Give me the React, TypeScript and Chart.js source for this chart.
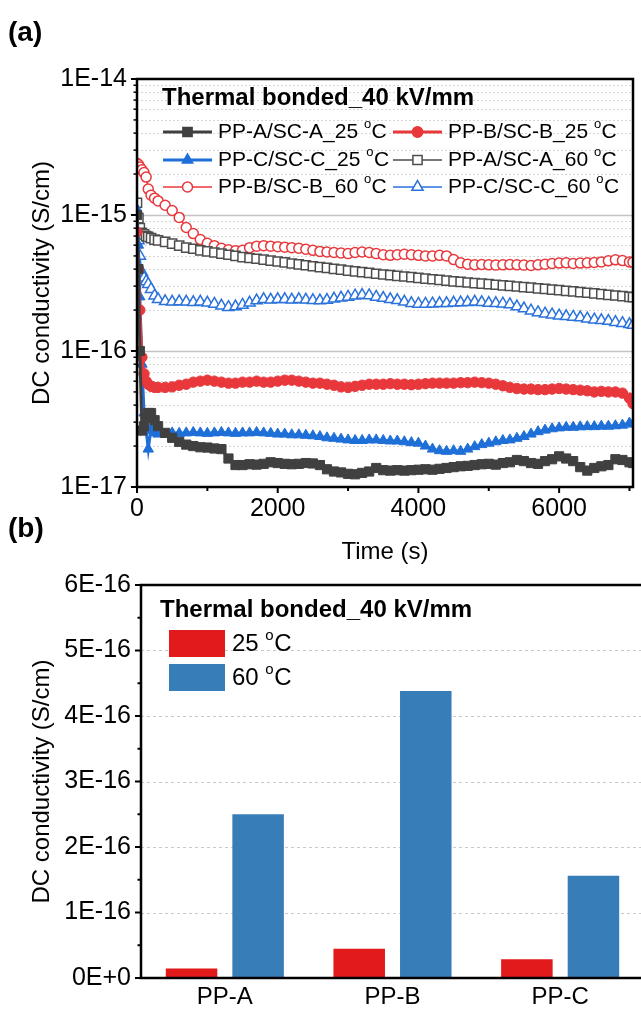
import React, { useEffect, useRef } from 'react';
import { Chart, registerables } from 'chart.js';

Chart.register(...registerables);

const FONT = "'Liberation Sans', Arial, Helvetica, sans-serif";

// ---------------- Panel (a): DC conductivity vs time ----------------
const timeS = [
  0, 20, 40, 70, 100, 130, 160, 200, 250, 300,
  400, 500, 600, 700, 800, 900, 1000, 1100, 1200, 1300,
  1400, 1500, 1600, 1700, 1800, 1900, 2000, 2100, 2200, 2300,
  2400, 2500, 2600, 2700, 2800, 2900, 3000, 3100, 3200, 3300,
  3400, 3500, 3600, 3700, 3800, 3900, 4000, 4100, 4200, 4300,
  4400, 4500, 4600, 4700, 4800, 4900, 5000, 5100, 5200, 5300,
  5400, 5500, 5600, 5700, 5800, 5900, 6000, 6100, 6200, 6300,
  6400, 6500, 6600, 6700, 6800, 6900, 7000, 7050,
];

const ppA_25 = [
  1.0e-15, 4.0e-16, 1.0e-16, 2.6e-17, 2.8e-17, 3.2e-17, 3.5e-17, 3.5e-17, 3.1e-17, 2.8e-17,
  2.5e-17, 2.3e-17, 2.15e-17, 2.05e-17, 2.0e-17, 1.96e-17, 1.95e-17, 1.92e-17, 1.9e-17, 1.62e-17,
  1.45e-17, 1.45e-17, 1.47e-17, 1.46e-17, 1.48e-17, 1.52e-17, 1.5e-17, 1.48e-17, 1.47e-17, 1.48e-17,
  1.5e-17, 1.49e-17, 1.45e-17, 1.35e-17, 1.3e-17, 1.28e-17, 1.25e-17, 1.24e-17, 1.27e-17, 1.3e-17,
  1.38e-17, 1.33e-17, 1.32e-17, 1.33e-17, 1.32e-17, 1.33e-17, 1.34e-17, 1.35e-17, 1.34e-17, 1.36e-17,
  1.38e-17, 1.4e-17, 1.42e-17, 1.43e-17, 1.45e-17, 1.47e-17, 1.48e-17, 1.46e-17, 1.5e-17, 1.52e-17,
  1.58e-17, 1.55e-17, 1.5e-17, 1.48e-17, 1.55e-17, 1.6e-17, 1.68e-17, 1.62e-17, 1.55e-17, 1.4e-17,
  1.32e-17, 1.38e-17, 1.42e-17, 1.45e-17, 1.6e-17, 1.58e-17, 1.52e-17, 1.5e-17,
];

const ppB_25 = [
  7.5e-16, 4.0e-16, 2.0e-16, 9.0e-17, 6.8e-17, 6.0e-17, 5.7e-17, 5.5e-17, 5.4e-17, 5.4e-17,
  5.4e-17, 5.45e-17, 5.6e-17, 5.7e-17, 5.9e-17, 6.0e-17, 6.1e-17, 6.0e-17, 5.9e-17, 5.8e-17,
  5.8e-17, 5.9e-17, 5.9e-17, 6.0e-17, 5.9e-17, 5.9e-17, 6.0e-17, 6.1e-17, 6.1e-17, 6.0e-17,
  5.9e-17, 5.8e-17, 5.8e-17, 5.7e-17, 5.6e-17, 5.45e-17, 5.4e-17, 5.5e-17, 5.6e-17, 5.7e-17,
  5.7e-17, 5.7e-17, 5.75e-17, 5.7e-17, 5.7e-17, 5.65e-17, 5.7e-17, 5.75e-17, 5.8e-17, 5.8e-17,
  5.8e-17, 5.8e-17, 5.85e-17, 5.85e-17, 5.9e-17, 5.85e-17, 5.8e-17, 5.7e-17, 5.55e-17, 5.4e-17,
  5.3e-17, 5.25e-17, 5.25e-17, 5.2e-17, 5.2e-17, 5.25e-17, 5.3e-17, 5.25e-17, 5.2e-17, 5.15e-17,
  5.1e-17, 5.0e-17, 5.05e-17, 5.0e-17, 5.0e-17, 4.9e-17, 4.5e-17, 4.1e-17,
];

const ppC_25 = [
  1.1e-15, 6.0e-16, 2.5e-16, 8.0e-17, 3.5e-17, 2.6e-17, 1.9e-17, 2.7e-17, 2.5e-17, 2.45e-17,
  2.45e-17, 2.5e-17, 2.48e-17, 2.5e-17, 2.52e-17, 2.5e-17, 2.48e-17, 2.5e-17, 2.52e-17, 2.5e-17,
  2.48e-17, 2.5e-17, 2.5e-17, 2.52e-17, 2.5e-17, 2.48e-17, 2.45e-17, 2.45e-17, 2.42e-17, 2.42e-17,
  2.4e-17, 2.38e-17, 2.35e-17, 2.3e-17, 2.28e-17, 2.25e-17, 2.22e-17, 2.2e-17, 2.2e-17, 2.22e-17,
  2.22e-17, 2.2e-17, 2.18e-17, 2.18e-17, 2.15e-17, 2.12e-17, 2.1e-17, 2.0e-17, 1.9e-17, 1.85e-17,
  1.83e-17, 1.85e-17, 1.83e-17, 1.9e-17, 1.98e-17, 2.05e-17, 2.1e-17, 2.15e-17, 2.2e-17, 2.22e-17,
  2.28e-17, 2.35e-17, 2.45e-17, 2.55e-17, 2.62e-17, 2.68e-17, 2.72e-17, 2.75e-17, 2.75e-17, 2.77e-17,
  2.78e-17, 2.78e-17, 2.8e-17, 2.8e-17, 2.82e-17, 2.85e-17, 2.95e-17, 2.9e-17,
];

const ppA_60 = [
  1.23e-15, 9.5e-16, 8.0e-16, 7.4e-16, 7.2e-16, 7.0e-16, 6.9e-16, 6.75e-16, 6.6e-16, 6.5e-16,
  6.35e-16, 6.15e-16, 5.95e-16, 5.75e-16, 5.65e-16, 5.5e-16, 5.4e-16, 5.3e-16, 5.2e-16, 5.1e-16,
  5.0e-16, 4.9e-16, 4.83e-16, 4.77e-16, 4.7e-16, 4.62e-16, 4.55e-16, 4.48e-16, 4.4e-16, 4.33e-16,
  4.27e-16, 4.2e-16, 4.14e-16, 4.08e-16, 4.02e-16, 3.96e-16, 3.9e-16, 3.85e-16, 3.8e-16, 3.75e-16,
  3.7e-16, 3.65e-16, 3.61e-16, 3.57e-16, 3.53e-16, 3.49e-16, 3.45e-16, 3.41e-16, 3.37e-16, 3.33e-16,
  3.29e-16, 3.25e-16, 3.22e-16, 3.19e-16, 3.16e-16, 3.13e-16, 3.1e-16, 3.07e-16, 3.04e-16, 3.01e-16,
  2.98e-16, 2.95e-16, 2.92e-16, 2.89e-16, 2.86e-16, 2.83e-16, 2.8e-16, 2.77e-16, 2.74e-16, 2.71e-16,
  2.68e-16, 2.65e-16, 2.62e-16, 2.59e-16, 2.56e-16, 2.53e-16, 2.5e-16, 2.49e-16,
];

const ppB_60 = [
  2.4e-15, 2.35e-15, 2.25e-15, 2.15e-15, 2.05e-15, 1.9e-15, 1.55e-15, 1.4e-15, 1.33e-15, 1.27e-15,
  1.18e-15, 1.08e-15, 9.6e-16, 8.1e-16, 7.3e-16, 6.6e-16, 6.2e-16, 5.95e-16, 5.7e-16, 5.55e-16,
  5.45e-16, 5.5e-16, 5.75e-16, 5.9e-16, 5.95e-16, 5.9e-16, 5.85e-16, 5.8e-16, 5.75e-16, 5.7e-16,
  5.6e-16, 5.5e-16, 5.4e-16, 5.35e-16, 5.3e-16, 5.25e-16, 5.2e-16, 5.3e-16, 5.35e-16, 5.3e-16,
  5.2e-16, 5.1e-16, 5.05e-16, 5.1e-16, 5.15e-16, 5.1e-16, 5.05e-16, 5.0e-16, 5.0e-16, 5.05e-16,
  5.0e-16, 4.7e-16, 4.45e-16, 4.35e-16, 4.3e-16, 4.32e-16, 4.3e-16, 4.28e-16, 4.3e-16, 4.32e-16,
  4.3e-16, 4.28e-16, 4.25e-16, 4.3e-16, 4.35e-16, 4.4e-16, 4.43e-16, 4.45e-16, 4.4e-16, 4.43e-16,
  4.45e-16, 4.48e-16, 4.52e-16, 4.6e-16, 4.68e-16, 4.62e-16, 4.52e-16, 4.5e-16,
];

const ppC_60 = [
  9.0e-16, 6.5e-16, 5.0e-16, 3.8e-16, 3.45e-16, 3.25e-16, 3.1e-16, 2.85e-16, 2.55e-16, 2.4e-16,
  2.32e-16, 2.3e-16, 2.31e-16, 2.3e-16, 2.28e-16, 2.3e-16, 2.26e-16, 2.22e-16, 2.15e-16, 2.1e-16,
  2.12e-16, 2.18e-16, 2.26e-16, 2.35e-16, 2.4e-16, 2.38e-16, 2.4e-16, 2.4e-16, 2.38e-16, 2.4e-16,
  2.38e-16, 2.36e-16, 2.35e-16, 2.37e-16, 2.42e-16, 2.46e-16, 2.5e-16, 2.55e-16, 2.58e-16, 2.56e-16,
  2.5e-16, 2.45e-16, 2.4e-16, 2.36e-16, 2.3e-16, 2.24e-16, 2.22e-16, 2.22e-16, 2.23e-16, 2.24e-16,
  2.24e-16, 2.26e-16, 2.27e-16, 2.28e-16, 2.3e-16, 2.28e-16, 2.25e-16, 2.24e-16, 2.23e-16, 2.2e-16,
  2.12e-16, 2.05e-16, 1.98e-16, 1.92e-16, 1.88e-16, 1.85e-16, 1.82e-16, 1.8e-16, 1.78e-16, 1.76e-16,
  1.73e-16, 1.7e-16, 1.68e-16, 1.66e-16, 1.63e-16, 1.6e-16, 1.57e-16, 1.55e-16,
];

const xTicksA = [0, 1000, 2000, 3000, 4000, 5000, 6000, 7000];
const xLabelsA = ['0', '', '2000', '', '4000', '', '6000', ''];
const yTicksA = [
  1e-17, 2e-17, 3e-17, 4e-17, 5e-17, 6e-17, 7e-17, 8e-17, 9e-17,
  1e-16, 2e-16, 3e-16, 4e-16, 5e-16, 6e-16, 7e-16, 8e-16, 9e-16,
  1e-15, 2e-15, 3e-15, 4e-15, 5e-15, 6e-15, 7e-15, 8e-15, 9e-15,
  1e-14,
];
const yDecadesA = [1e-17, 1e-16, 1e-15, 1e-14];
const yDecadeLabelsA = ['1E-17', '1E-16', '1E-15', '1E-14'];

const legendTitle = 'Thermal bonded_40 kV/mm';

type Series = {
  name: string; // label text before the superscript "o"
  data: number[];
  color: string;
  marker: 'rect' | 'circle' | 'triangle';
  radius: number;
  filled: boolean;
  lineWidth: number;
};

const seriesA: Series[] = [
  { name: 'PP-A/SC-A_25 ', data: ppA_25, color: '#404040', marker: 'rect', radius: 6.5, filled: true, lineWidth: 3 },
  { name: 'PP-B/SC-B_25 ', data: ppB_25, color: '#e8383c', marker: 'circle', radius: 5.2, filled: true, lineWidth: 3 },
  { name: 'PP-C/SC-C_25 ', data: ppC_25, color: '#1f6fd8', marker: 'triangle', radius: 6, filled: true, lineWidth: 3 },
  { name: 'PP-A/SC-A_60 ', data: ppA_60, color: '#4d4d4d', marker: 'rect', radius: 6.5, filled: false, lineWidth: 1.5 },
  { name: 'PP-B/SC-B_60 ', data: ppB_60, color: '#e8383c', marker: 'circle', radius: 5, filled: false, lineWidth: 1.5 },
  { name: 'PP-C/SC-C_60 ', data: ppC_60, color: '#2a72dc', marker: 'triangle', radius: 6.5, filled: false, lineWidth: 1.5 },
];

// ---------------- Panel (b): bar chart ----------------
const categories = ['PP-A', 'PP-B', 'PP-C'];
const bar25 = [1.45e-17, 4.47e-17, 2.85e-17];
const bar60 = [2.5e-16, 4.38e-16, 1.56e-16];
const barColors = ['#e31a1c', '#377eb8'];
const barNames = ['25 ', '60 '];
const yTicksB = [0, 5e-17, 1e-16, 1.5e-16, 2e-16, 2.5e-16, 3e-16, 3.5e-16, 4e-16, 4.5e-16, 5e-16, 5.5e-16, 6e-16];
const yMajorB = [0, 1e-16, 2e-16, 3e-16, 4e-16, 5e-16, 6e-16];
const yMajorLabelsB = ['0E+0', '1E-16', '2E-16', '3E-16', '4E-16', '5E-16', '6E-16'];

// ---------------- helpers ----------------
const near = (a: number, b: number) => Math.abs(a - b) <= Math.abs(b) * 1e-6 + 1e-30;

function drawMarker(ctx: CanvasRenderingContext2D, style: string, x: number, y: number, r: number) {
  ctx.beginPath();
  if (style === 'circle') {
    ctx.arc(x, y, r, 0, Math.PI * 2);
  } else if (style === 'rect') {
    const s = r * Math.SQRT1_2;
    ctx.rect(x - s, y - s, 2 * s, 2 * s);
  } else {
    ctx.moveTo(x + Math.sin((2 * Math.PI) / 3) * r, y - Math.cos((2 * Math.PI) / 3) * r);
    ctx.lineTo(x + Math.sin((4 * Math.PI) / 3) * r, y - Math.cos((4 * Math.PI) / 3) * r);
    ctx.lineTo(x, y - r);
    ctx.closePath();
  }
}

function drawDegreeLabel(ctx: CanvasRenderingContext2D, text: string, x: number, y: number, size: number) {
  ctx.fillStyle = '#000';
  ctx.textAlign = 'left';
  ctx.textBaseline = 'middle';
  ctx.font = `${size}px ${FONT}`;
  ctx.fillText(text, x, y);
  let cx = x + ctx.measureText(text).width;
  const sup = Math.round(size * 0.62);
  ctx.font = `${sup}px ${FONT}`;
  ctx.fillText('o', cx, y - size * 0.36);
  cx += ctx.measureText('o').width + 0.5;
  ctx.font = `${size}px ${FONT}`;
  ctx.fillText('C', cx, y);
}

const pluginA = {
  id: 'decorA',
  beforeDatasetsDraw(chart: any) {
    const { ctx, chartArea: ca } = chart;
    const y = chart.scales.y;
    ctx.save();
    yTicksA.forEach((v) => {
      if (v <= 1e-17 * 1.0001 || v >= 1e-14 * 0.9999) return;
      const major = yDecadesA.some((d) => near(v, d));
      const py = Math.round(y.getPixelForValue(v)) + 0.5;
      ctx.strokeStyle = major ? '#c4c4c4' : '#d6d6d6';
      ctx.lineWidth = major ? 1.3 : 1;
      ctx.setLineDash(major ? [] : [2, 2]);
      ctx.beginPath();
      ctx.moveTo(ca.left, py);
      ctx.lineTo(ca.right, py);
      ctx.stroke();
    });
    ctx.restore();
  },
  afterDraw(chart: any) {
    const { ctx, chartArea: ca } = chart;
    const x = chart.scales.x;
    const y = chart.scales.y;
    ctx.save();
    ctx.setLineDash([]);
    ctx.strokeStyle = '#000';
    yTicksA.forEach((v) => {
      const major = yDecadesA.some((d) => near(v, d));
      const py = y.getPixelForValue(v);
      ctx.lineWidth = major ? 2 : 1.5;
      ctx.beginPath();
      ctx.moveTo(ca.left, py);
      ctx.lineTo(ca.left - (major ? 6 : 3.5), py);
      ctx.stroke();
    });
    xTicksA.forEach((v, i) => {
      const major = xLabelsA[i] !== '';
      const px = x.getPixelForValue(v);
      ctx.lineWidth = 2;
      ctx.beginPath();
      ctx.moveTo(px, ca.bottom);
      ctx.lineTo(px, ca.bottom + (major ? 6 : 4));
      ctx.stroke();
    });
    ctx.lineWidth = 2.5;
    ctx.strokeRect(ca.left, ca.top, ca.right - ca.left, ca.bottom - ca.top);

    // legend
    ctx.fillStyle = '#000';
    ctx.font = `bold 24px ${FONT}`;
    ctx.textAlign = 'left';
    ctx.textBaseline = 'middle';
    ctx.fillText(legendTitle, 162, 98);
    const rows = [132, 160, 187];
    const cols = [163, 393];
    seriesA.forEach((s, i) => {
      const ry = rows[Math.floor(i / 2)];
      const x0 = cols[i % 2];
      const x1 = x0 + 49;
      ctx.strokeStyle = s.color;
      ctx.lineWidth = s.lineWidth;
      ctx.beginPath();
      ctx.moveTo(x0, ry);
      ctx.lineTo(x1, ry);
      ctx.stroke();
      drawMarker(ctx, s.marker, (x0 + x1) / 2, ry, s.radius);
      ctx.fillStyle = s.filled ? s.color : '#ffffff';
      ctx.fill();
      ctx.lineWidth = 1.5;
      ctx.stroke();
      drawDegreeLabel(ctx, s.name, x1 + 6, ry, 21);
    });

    // panel labels
    ctx.fillStyle = '#000';
    ctx.font = `bold 28px ${FONT}`;
    ctx.textAlign = 'left';
    ctx.textBaseline = 'middle';
    ctx.fillText('(a)', 8, 33);
    ctx.fillText('(b)', 8, 529);
    ctx.restore();
  },
};

const pluginB = {
  id: 'decorB',
  beforeDatasetsDraw(chart: any) {
    const { ctx, chartArea: ca } = chart;
    const y = chart.scales.y;
    ctx.save();
    ctx.strokeStyle = '#c8c8c8';
    ctx.lineWidth = 1;
    ctx.setLineDash([3, 3]);
    yMajorB.forEach((v) => {
      if (v <= 0 || v >= 6e-16 * 0.9999) return;
      const py = Math.round(y.getPixelForValue(v)) + 0.5;
      ctx.beginPath();
      ctx.moveTo(ca.left, py);
      ctx.lineTo(ca.right, py);
      ctx.stroke();
    });
    ctx.restore();
  },
  afterDraw(chart: any) {
    const { ctx, chartArea: ca } = chart;
    const y = chart.scales.y;
    ctx.save();
    ctx.setLineDash([]);
    ctx.strokeStyle = '#000';
    yTicksB.forEach((v) => {
      const major = yMajorB.some((d) => near(v, d));
      const py = y.getPixelForValue(v);
      ctx.lineWidth = 2;
      ctx.beginPath();
      ctx.moveTo(ca.left, py);
      ctx.lineTo(ca.left - (major ? 6 : 3.5), py);
      ctx.stroke();
    });
    ctx.lineWidth = 2.5;
    ctx.strokeRect(ca.left, ca.top, ca.right - ca.left, ca.bottom - ca.top);

    // legend
    ctx.fillStyle = '#000';
    ctx.font = `bold 24px ${FONT}`;
    ctx.textAlign = 'left';
    ctx.textBaseline = 'middle';
    ctx.fillText(legendTitle, 160, 50);
    const boxY = [70, 104];
    barNames.forEach((n, i) => {
      ctx.fillStyle = barColors[i];
      ctx.fillRect(169, boxY[i], 56, 27);
      drawDegreeLabel(ctx, n, 232, boxY[i] + 14, 24);
    });
    ctx.restore();
  },
};

export default function App() {
  const refA = useRef<HTMLCanvasElement>(null);
  const refB = useRef<HTMLCanvasElement>(null);

  useEffect(() => {
    const tickFont = { family: FONT, size: 25 };
    const titleFont = { family: FONT, size: 24 };
    const noGrid = { display: false, drawTicks: false, drawOnChartArea: false };

    const chartA = new Chart(refA.current as HTMLCanvasElement, {
      type: 'line',
      data: {
        datasets: seriesA.map((s) => ({
          label: s.name + '°C',
          data: timeS.map((t, i) => ({ x: t, y: s.data[i] })),
          borderColor: s.color,
          borderWidth: s.lineWidth,
          backgroundColor: s.filled ? s.color : '#ffffff',
          pointStyle: s.marker,
          pointRadius: s.radius,
          pointBackgroundColor: s.filled ? s.color : '#ffffff',
          pointBorderColor: s.color,
          pointBorderWidth: s.filled ? 1 : 1.5,
          tension: 0,
          fill: false,
        })),
      },
      options: {
        animation: false,
        responsive: false,
        maintainAspectRatio: false,
        layout: { padding: { top: 79, right: 3, left: 0, bottom: 0 } },
        plugins: { legend: { display: false }, tooltip: { enabled: false }, title: { display: false } },
        scales: {
          x: {
            type: 'linear',
            min: 0,
            max: 7050,
            grid: noGrid,
            border: { display: false },
            afterBuildTicks: (s: any) => {
              s.ticks = xTicksA.map((v) => ({ value: v }));
            },
            afterFit: (s: any) => {
              s.height = 81;
            },
            ticks: {
              autoSkip: false,
              maxRotation: 0,
              padding: 7,
              color: '#000',
              font: tickFont,
              callback: (v: any) => {
                const i = xTicksA.indexOf(Number(v));
                return i >= 0 ? xLabelsA[i] : '';
              },
            },
            title: { display: true, text: 'Time (s)', color: '#000', font: titleFont, padding: { top: 0, bottom: 1 } },
          },
          y: {
            type: 'logarithmic',
            min: 1e-17,
            max: 1e-14,
            grid: noGrid,
            border: { display: false },
            afterBuildTicks: (s: any) => {
              s.ticks = yTicksA.map((v) => ({ value: v }));
            },
            afterFit: (s: any) => {
              s.width = 137;
            },
            ticks: {
              autoSkip: false,
              padding: 10,
              color: '#000',
              font: tickFont,
              callback: (v: any) => {
                const i = yDecadesA.findIndex((d) => near(Number(v), d));
                return i >= 0 ? yDecadeLabelsA[i] : '';
              },
            },
            title: {
              display: true,
              text: 'DC conductivity (S/cm)',
              color: '#000',
              font: titleFont,
              padding: { top: 28, bottom: 0 },
            },
          },
        },
      },
      plugins: [pluginA],
    } as any);

    const chartB = new Chart(refB.current as HTMLCanvasElement, {
      type: 'bar',
      data: {
        labels: categories,
        datasets: [
          { label: '25 °C', data: bar25, backgroundColor: barColors[0], borderWidth: 0, categoryPercentage: 0.794, barPercentage: 0.774 },
          { label: '60 °C', data: bar60, backgroundColor: barColors[1], borderWidth: 0, categoryPercentage: 0.794, barPercentage: 0.774 },
        ],
      },
      options: {
        animation: false,
        responsive: false,
        maintainAspectRatio: false,
        layout: { padding: { top: 13, right: 0, left: 0, bottom: 0 } },
        plugins: { legend: { display: false }, tooltip: { enabled: false } },
        scales: {
          x: {
            type: 'category',
            grid: noGrid,
            border: { display: false },
            afterFit: (s: any) => {
              s.height = 31;
            },
            ticks: { padding: 5, color: '#000', font: { family: FONT, size: 24 }, maxRotation: 0 },
          },
          y: {
            type: 'linear',
            min: 0,
            max: 6e-16,
            grid: noGrid,
            border: { display: false },
            afterBuildTicks: (s: any) => {
              s.ticks = yTicksB.map((v) => ({ value: v }));
            },
            afterFit: (s: any) => {
              s.width = 141;
            },
            ticks: {
              autoSkip: false,
              padding: 10,
              color: '#000',
              font: tickFont,
              callback: (v: any) => {
                const i = yMajorB.findIndex((d) => near(Number(v), d));
                return i >= 0 ? yMajorLabelsB[i] : '';
              },
            },
            title: {
              display: true,
              text: 'DC conductivity (S/cm)',
              color: '#000',
              font: titleFont,
              padding: { top: 28, bottom: 0 },
            },
          },
        },
      },
      plugins: [pluginB],
    } as any);

    return () => {
      chartA.destroy();
      chartB.destroy();
    };
  }, []);

  return (
    <div style={{ position: 'fixed', left: 0, top: 0, width: 641, height: 1009, overflow: 'hidden', background: '#fff' }}>
      <canvas ref={refA} width={641} height={568} style={{ position: 'absolute', left: 0, top: 0, width: 641, height: 568 }} />
      <canvas ref={refB} width={644} height={449} style={{ position: 'absolute', left: 0, top: 560, width: 644, height: 449 }} />
    </div>
  );
}
